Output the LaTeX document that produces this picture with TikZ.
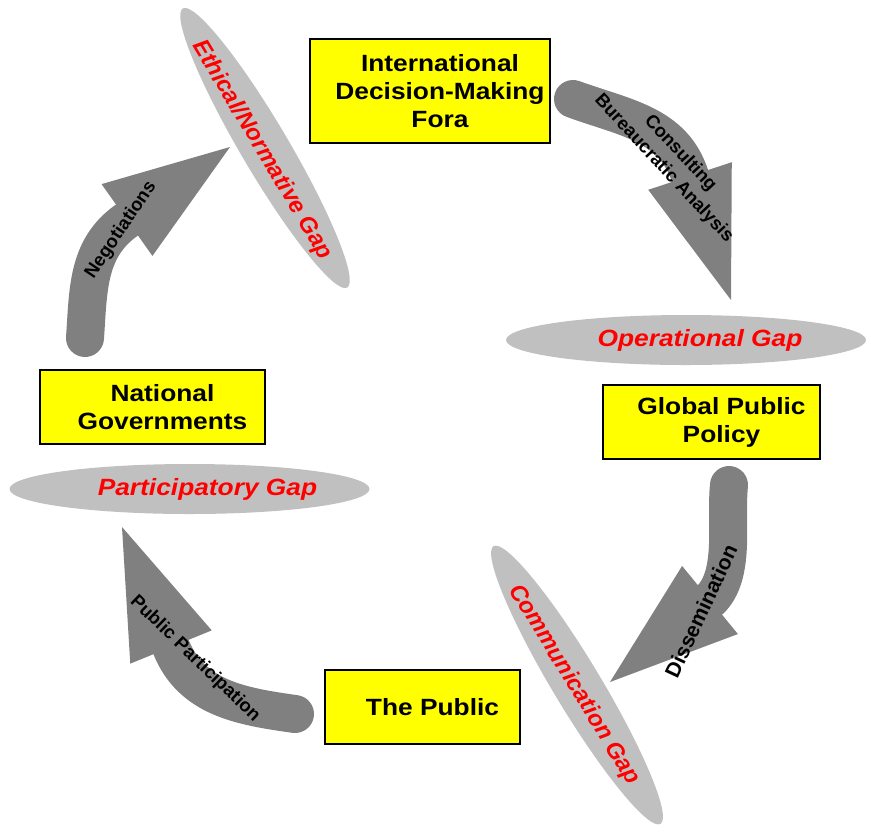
\documentclass[tikz,border=0pt]{standalone}
\usepackage{fontspec}
\setmainfont{Liberation Sans}
\newfontfamily\widefont{Liberation Sans}[FakeStretch=1.12]
\usetikzlibrary{shapes.geometric,calc}

\definecolor{boxyellow}{RGB}{255,255,0}
\definecolor{arrowgray}{RGB}{128,128,128}
\definecolor{ovalgray}{RGB}{192,192,192}
\definecolor{gapred}{RGB}{255,0,0}

% triangular head of a block arrow: #1 = middle of its base, #2 = its tip
\newcommand{\blockhead}[2]{\fill[arrowgray] ($(#1)!44pt!90:(#2)$) -- (#2) -- ($(#1)!44pt!-90:(#2)$) -- cycle;}

\begin{document}
\begin{tikzpicture}[x=1pt,y=1pt,
    gapbox/.style={draw=black, line width=1.5pt, fill=boxyellow, inner sep=0pt},
    boxtext/.style={font=\widefont\bfseries\fontsize{23.5}{28}\selectfont, align=center},
    gapoval/.style={ellipse, fill=ovalgray, inner sep=0pt},
    gaptext/.style={font=\widefont\bfseries\itshape\fontsize{23.5}{28}\selectfont, text=gapred},
    tiltgap/.style={font=\bfseries\itshape\fontsize{23.5}{28}\selectfont, text=gapred},
    shaft/.style={draw=arrowgray, line width=38pt, line cap=round},
    flowtext/.style={font=\bfseries\fontsize{18.5}{22.5}\selectfont, align=center}]
    \useasboundingbox (0,0) rectangle (869,-825);

    % the four flows round the cycle
    \coordinate (consult-tail) at (573,-99);
    \coordinate (consult-base) at (690,-176);
    \coordinate (consult-tip) at (731,-300);
    \draw[shaft] (consult-tail) to[out=-20,in=108] (consult-base);
    \blockhead{consult-base}{consult-tip}

    \coordinate (dissem-tail) at (729,-485);
    \coordinate (dissem-base) at (710,-600);
    \coordinate (dissem-tip) at (610,-682);
    \draw[shaft] (dissem-tail) to[out=-96,in=44,looseness=0.8] (dissem-base);
    \blockhead{dissem-base}{dissem-tip}

    \coordinate (partic-tail) at (295,-714);
    \coordinate (partic-base) at (171,-647);
    \coordinate (partic-tip) at (122,-527);
    \draw[shaft] (partic-tail) to[out=172,in=-68] (partic-base);
    \blockhead{partic-base}{partic-tip}

    \coordinate (negot-tail) at (85,-338);
    \coordinate (negot-base) at (127,-220);
    \coordinate (negot-tip) at (230,-147);
    \draw[shaft] (negot-tail) to[out=86,in=215] (negot-base);
    \blockhead{negot-base}{negot-tip}

    % gaps
    \node[gapoval, minimum width=324pt, minimum height=48pt, rotate=-59.5] (ethical) at (265,-148) {};
    \node[tiltgap, rotate=-59] (ethical-lbl) at (262,-150) {Ethical/Normative Gap};
    \node[gapoval, minimum width=360pt, minimum height=50pt] (operational) at (686,-340) {};
    \node[gaptext] (operational-lbl) at ([xshift=14pt]operational.center) {Operational Gap};
    \node[gapoval, minimum width=324pt, minimum height=48pt, rotate=-59] (communication) at (577,-685) {};
    \node[tiltgap, rotate=-58.5] (communication-lbl) at (574,-685) {Communication Gap};
    \node[gapoval, minimum width=360pt, minimum height=50pt] (participatory) at (189.5,-489) {};
    \node[gaptext] (participatory-lbl) at ([xshift=18pt]participatory.center) {Participatory Gap};

    % flow labels
    \node[flowtext, rotate=-47] (consult-lbl) at (672,-161) {Consulting\\Bureaucratic Analysis};
    \node[flowtext, font=\bfseries\fontsize{21}{24}\selectfont, rotate=65] (dissem-lbl) at (701,-611) {Dissemination};
    \node[flowtext, rotate=-44] (partic-lbl) at (195,-659) {Public Participation};
    \node[flowtext, rotate=56] (negot-lbl) at (121,-230) {Negotiations};

    % actors
    \node[gapbox, minimum width=240pt, minimum height=104pt] (fora) at (430,-91) {};
    \node[boxtext] (fora-lbl) at ([xshift=10pt]fora.center) {International\\Decision-Making\\Fora};
    \node[gapbox, minimum width=217pt, minimum height=74pt] (policy) at (711.5,-422) {};
    \node[boxtext] (policy-lbl) at ([xshift=10pt]policy.center) {Global Public\\Policy};
    \node[gapbox, minimum width=195pt, minimum height=74pt] (public) at (422.5,-707) {};
    \node[boxtext] (public-lbl) at ([xshift=10pt]public.center) {The Public};
    \node[gapbox, minimum width=225pt, minimum height=74pt] (govts) at (152.5,-407) {};
    \node[boxtext] (govts-lbl) at ([xshift=10pt]govts.center) {National\\Governments};
\end{tikzpicture}
\end{document}
